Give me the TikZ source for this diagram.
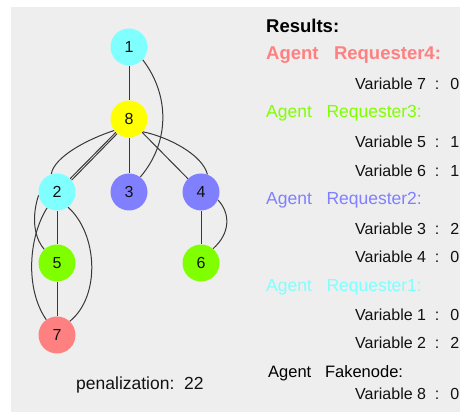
\documentclass[tikz,border=0pt]{standalone}
\usepackage{fontspec}
\setmainfont{Liberation Sans}
\usetikzlibrary{backgrounds}
\definecolor{bgc}{HTML}{EEEEEE}
\definecolor{cy}{HTML}{80FFFF}
\definecolor{ye}{HTML}{FFFF00}
\definecolor{bl}{HTML}{8080FF}
\definecolor{gr}{HTML}{80FF00}
\definecolor{rd}{HTML}{FF8080}
\definecolor{edgec}{HTML}{383838}
\definecolor{txt}{HTML}{111111}
\newcommand{\vsep}{\ \ :\ \ \hspace{2pt}}
\begin{document}
\begin{tikzpicture}[x=1pt,y=1pt,
  vtx/.style={circle, minimum size=37pt, inner sep=0pt, text=txt, font=\fontsize{16}{16}\selectfont},
  edge/.style={draw=edgec, line width=1pt},
  txtbase/.style={anchor=base west, inner sep=0pt},
  hd/.style={txtbase, font=\bfseries\fontsize{18.5}{20}\selectfont},
  ag/.style={txtbase, font=\fontsize{17.5}{20}\selectfont},
  fk/.style={txtbase, text=black, font=\fontsize{16.5}{20}\selectfont},
  varl/.style={txtbase, text=txt, font=\fontsize{16}{20}\selectfont},
  pen/.style={txtbase, text=txt, font=\fontsize{17.5}{20}\selectfont}]
\useasboundingbox (0,0) rectangle (461,412);
\clip (0,0) rectangle (461,412);
% vertices
\node[vtx, fill=cy] (n1) at (129,365) {1};
\node[vtx, fill=ye] (n8) at (129,293) {8};
\node[vtx, fill=cy] (n2) at (57,220) {2};
\node[vtx, fill=bl] (n3) at (129,220) {3};
\node[vtx, fill=bl] (n4) at (201,220) {4};
\node[vtx, fill=gr] (n5) at (57,149) {5};
\node[vtx, fill=gr] (n6) at (201,149) {6};
\node[vtx, fill=rd] (n7) at (57,77) {7};
% texts
\node[pen] (tpen) at (76,22) {penalization:\ \ 22};
\node[hd, text=black] (tres) at (266,379) {Results:};
\node[hd, text=rd] (ta4) at (266,352) {Agent\ \ \ Requester4:};
\node[varl] (tv7) at (355,322.5) {Variable 7\vsep 0};
\node[ag, text=gr] (ta3) at (266,294) {Agent\ \ \ Requester3:};
\node[varl] (tv5) at (355,264) {Variable 5\vsep 1};
\node[varl] (tv6) at (355,235.5) {Variable 6\vsep 1};
\node[ag, text=bl] (ta2) at (266,207) {Agent\ \ \ Requester2:};
\node[varl] (tv3) at (355,177) {Variable 3\vsep 2};
\node[varl] (tv4) at (355,149) {Variable 4\vsep 0};
\node[ag, text=cy] (ta1) at (266,120.5) {Agent\ \ \ Requester1:};
\node[varl] (tv1) at (355,91.5) {Variable 1\vsep 0};
\node[varl] (tv2) at (355,63) {Variable 2\vsep 2};
\node[fk] (taf) at (268,34) {Agent\ \ \ Fakenode:};
\node[varl] (tv8) at (355,12) {Variable 8\vsep 0};
\begin{pgfonlayer}{background}
\fill[bgc] (11,0) rectangle (460,405);
\draw[edge] (n1) -- (n8);
\draw[edge] (n8) -- (n3);
\draw[edge] (n8) -- (n4);
\draw[edge] (n8) -- (n2);
\draw[edge] (n8.231) -- (n2.39);
\draw[edge] (n2) -- (n5);
\draw[edge] (n5) -- (n7);
\draw[edge] (n4) -- (n6);
\draw[edge] (n1.-43) .. controls +(27,-35) and +(30,35) .. (n3.53);
\draw[edge] (n8.218) .. controls +(-25,-8) and +(3,18) .. (n2.108);
\draw[edge] (n8.-43) .. controls +(25,-5) and +(-5,20) .. (n4.70);
\draw[edge] (n4.-25) .. controls +(13,-14) and +(17,15) .. (n6.50);
\draw[edge] (n2.190) .. controls +(-6,-18) and +(-12,14) .. (n5.133);
\draw[edge] (n2.238) .. controls +(-19,-30) and +(-21,30) .. (n7.125);
\draw[edge] (n2.-54) .. controls +(30,-27) and +(31,25) .. (n7.47);
\end{pgfonlayer}
\end{tikzpicture}
\end{document}
